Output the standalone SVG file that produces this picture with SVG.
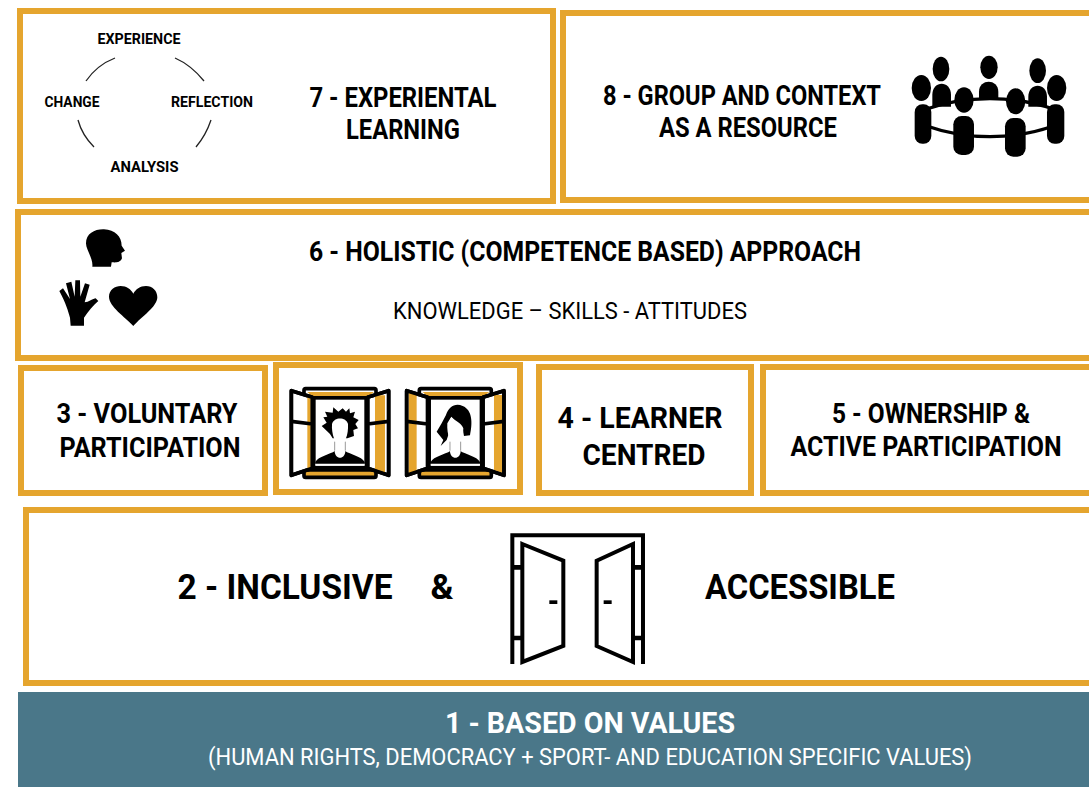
<svg xmlns="http://www.w3.org/2000/svg" xmlns:xlink="http://www.w3.org/1999/xlink" width="1089" height="787" viewBox="0 0 1089 787">
<style>
.box{fill:#fff;stroke:#e5a52e;stroke-width:6}
text{font-family:"Roboto","Liberation Sans",sans-serif;fill:#000;text-anchor:middle}
.t{font-weight:700;font-size:30px}
.s{font-weight:700;font-size:15.5px}
.k{fill:#000;stroke:none}
.w{fill:#fff;stroke:#000;stroke-width:11;stroke-linejoin:round}
.o{fill:none;stroke:#000;stroke-width:11;stroke-linejoin:round}
.g{fill:#e5a52e;stroke:none}
.arc{fill:none;stroke:#222;stroke-width:1.3}
.dr{fill:#fff;stroke:#000;stroke-width:12;stroke-linejoin:miter}
</style>
<defs>
<g id="win">
<rect x="102" y="86" width="216" height="24" rx="5" fill="#fff" stroke="#000" stroke-width="11"/>
<rect x="102" y="330" width="216" height="22" rx="5" fill="#e5a52e" stroke="#000" stroke-width="11"/>
<rect x="132" y="114" width="156" height="208" fill="#fff" stroke="#000" stroke-width="10"/>
<path class="k" d="M136 306C146 288 178 284 196 272L224 272C242 284 274 288 284 306V312H136Z"/>
<path d="M194 240V272C194 300 226 300 226 272V240Z" fill="#fff"/>
<path d="M194 245V272M226 245V272" stroke="#666" stroke-width="2" fill="none"/>
<path d="M136 314H284" stroke="#fff" stroke-width="6"/>
</g>
</defs>

<g id="node-7">
<rect class="box" x="20" y="11" width="533" height="190"/>
<text class="s" x="139" y="44" textLength="83" lengthAdjust="spacingAndGlyphs">EXPERIENCE</text>
<text class="s" x="72" y="107" textLength="55" lengthAdjust="spacingAndGlyphs">CHANGE</text>
<text class="s" x="212" y="107" textLength="82" lengthAdjust="spacingAndGlyphs">REFLECTION</text>
<text class="s" x="144.500" y="172" textLength="68" lengthAdjust="spacingAndGlyphs">ANALYSIS</text>
<path class="arc" d="M86 81Q97 65 115 58"/>
<path class="arc" d="M175 58Q191 65 204 81"/>
<path class="arc" d="M211 120Q206 135 196 147"/>
<path class="arc" d="M78 120Q82 135 94 147"/>
<text class="t" style="font-size:27px" x="403" y="107" textLength="187" lengthAdjust="spacingAndGlyphs">7 - EXPERIENTAL</text>
<text class="t" style="font-size:27px" x="403" y="139" textLength="114" lengthAdjust="spacingAndGlyphs">LEARNING</text>
</g>

<g id="node-8">
<rect class="box" x="563" y="13" width="540" height="187"/>
<text class="t" style="font-size:27px" x="742" y="105" textLength="278" lengthAdjust="spacingAndGlyphs">8 - GROUP AND CONTEXT</text>
<text class="t" style="font-size:27px" x="748" y="137" textLength="178" lengthAdjust="spacingAndGlyphs">AS A RESOURCE</text>
<g transform="translate(890,40) scale(.3333)">
<path d="M110 207Q200 176 300 176T490 207M110 258Q200 290 300 290T490 258" fill="none" stroke="#000" stroke-width="10"/>
<ellipse class="k" cx="153" cy="87" rx="25" ry="37"/>
<ellipse class="k" cx="297" cy="82" rx="26" ry="35"/>
<ellipse class="k" cx="443" cy="92" rx="25" ry="37"/>
<path class="k" d="M127 200V165C127 120 183 120 183 165V200Z"/>
<path class="k" d="M267 178V155C267 115 325 115 325 155V178Z"/>
<path class="k" d="M415 200V170C415 126 471 126 471 170V200Z"/>
<ellipse class="k" cx="94" cy="144" rx="29" ry="39"/>
<ellipse class="k" cx="500" cy="144" rx="29" ry="39"/>
<ellipse class="k" cx="222" cy="180" rx="29" ry="38"/>
<ellipse class="k" cx="377" cy="184" rx="29" ry="39"/>
<rect class="k" x="74" y="193" width="50" height="118" rx="23"/>
<rect class="k" x="471" y="193" width="52" height="118" rx="23"/>
<rect class="k" x="190" y="228" width="62" height="117" rx="25"/>
<rect class="k" x="345" y="234" width="62" height="116" rx="25"/>
</g>
</g>

<g id="node-6">
<rect class="box" x="18" y="212" width="1085" height="146"/>
<text class="t" style="font-size:27px" x="585" y="261" textLength="552" lengthAdjust="spacingAndGlyphs">6 - HOLISTIC (COMPETENCE BASED) APPROACH</text>
<text x="570" y="319" style="font-size:24px" textLength="354" lengthAdjust="spacingAndGlyphs">KNOWLEDGE – SKILLS - ATTITUDES</text>
<g transform="translate(30,215) scale(.3333)">
<path class="k" d="M187 155C190 130 168 105 168 85C168 55 195 42 222 43C255 44 275 65 275 92L285 107L274 114L276 130C270 145 255 142 245 142L243 155Z"/>
<path class="k" d="M122 332L120 308C115 290 108 265 88 228L99 220L120 252L108 205L124 200L134 245L136 196L150 196L151 245L165 205L179 209L164 262C175 262 190 250 197 250L205 258C190 270 175 290 162 308V332Z"/>
<path class="k" d="M310 333C285 305 237 275 237 245C237 225 255 213 272 213C290 213 303 223 310 236C317 223 330 213 348 213C367 213 382 227 382 247C382 275 335 305 310 333Z"/>
</g>
</g>

<g id="node-3">
<rect class="box" x="21" y="368" width="244" height="125"/>
<text class="t" style="font-size:27px" x="147" y="423" textLength="181" lengthAdjust="spacingAndGlyphs">3 - VOLUNTARY</text>
<text class="t" style="font-size:27px" x="150" y="457" textLength="181" lengthAdjust="spacingAndGlyphs">PARTICIPATION</text>
</g>

<g id="node-windows">
<rect class="box" x="276" y="365" width="244" height="127"/>
<g transform="translate(270,360) scale(.3333)">
<use xlink:href="#win" href="#win"/>
<path class="g" d="M112 96H312L297 108H125Z"/>
<path class="w" d="M64 92L127 112V325L64 346Z"/>
<path class="g" d="M112 108H122V330H112Z"/>
<path class="w" d="M356 92L293 112V325L356 346Z"/>
<path class="g" d="M315 106H345V338L315 327Z"/>
<path class="o" d="M64 92L127 112V325L64 346ZM356 92L293 112V325L356 346ZM64 184L127 192M356 184L293 192"/>
<path class="k" d="M165 155L188 158L190 142L205 155L218 145L228 155L238 145L240 160L255 155L250 172L266 180L256 192L264 205L250 210L252 228L232 235L188 235L180 222L155 198L170 188L160 172L172 170Z"/>
<path d="M186 192C192 170 228 170 234 192C236 225 224 252 210 256C196 252 184 225 186 192Z" fill="#fff"/>
<g transform="translate(346,0)">
<use xlink:href="#win" href="#win"/>
<path class="g" d="M112 96H312L297 108H125Z"/>
<path class="w" d="M64 92L127 112V325L64 346Z"/>
<path class="w" d="M356 92L293 112V325L356 346Z"/>
<path class="g" d="M70 98H94V332L70 340Z"/>
<path class="g" d="M326 105H350V338L326 330Z"/>
<path class="o" d="M64 92L127 112V325L64 346ZM356 92L293 112V325L356 346ZM64 184L127 192M356 184L293 192"/>
<path class="k" d="M182 165L169 190L154 215L174 240L166 258L184 240L189 225L188 190L198 172L232 205L236 228L254 226C262 190 262 150 232 138C210 128 190 140 182 165Z"/>
<path d="M186 190L198 170C212 185 230 190 234 205C234 228 224 252 210 256C196 252 184 225 186 190Z" fill="#fff"/>
</g>
</g>
</g>

<g id="node-4">
<rect class="box" x="539" y="367" width="212" height="126"/>
<text class="t" x="640" y="428" textLength="165" lengthAdjust="spacingAndGlyphs">4 - LEARNER</text>
<text class="t" x="644" y="465" textLength="123" lengthAdjust="spacingAndGlyphs">CENTRED</text>
</g>

<g id="node-5">
<rect class="box" x="763" y="367" width="340" height="126"/>
<text class="t" style="font-size:27px" x="931" y="423" textLength="198" lengthAdjust="spacingAndGlyphs">5 - OWNERSHIP &amp;</text>
<text class="t" style="font-size:27px" x="926" y="456" textLength="271" lengthAdjust="spacingAndGlyphs">ACTIVE PARTICIPATION</text>
</g>

<g id="node-2">
<rect class="box" x="26" y="510" width="1080" height="173"/>
<text class="t" style="font-size:35px" x="285" y="599" textLength="215" lengthAdjust="spacingAndGlyphs">2 - INCLUSIVE</text>
<text class="t" style="font-size:35px" x="442" y="599">&amp;</text>
<text class="t" style="font-size:35px" x="800" y="599" textLength="190" lengthAdjust="spacingAndGlyphs">ACCESSIBLE</text>
<g transform="translate(490,520) scale(.3333)">
<path d="M67 432V46H459V432" fill="none" stroke="#000" stroke-width="12"/>
<path d="M67 142H95M67 354H95M431 142H459M431 354H459" stroke="#000" stroke-width="14" fill="none"/>
<path class="dr" d="M97 72L220 122V378L97 426Z"/>
<path class="dr" d="M429 72L320 122V378L429 426Z"/>
<rect class="k" x="178" y="241" width="24" height="11"/>
<rect class="k" x="341" y="241" width="24" height="11"/>
</g>
</g>

<g id="node-1">
<rect x="18" y="692" width="1071" height="95" fill="#4a7789"/>
<text class="t" x="590" y="733" style="font-size:30px;fill:#fff" textLength="290" lengthAdjust="spacingAndGlyphs">1 - BASED ON VALUES</text>
<text x="590" y="765" style="font-size:24px;fill:#fff" textLength="764" lengthAdjust="spacingAndGlyphs">(HUMAN RIGHTS, DEMOCRACY + SPORT- AND EDUCATION SPECIFIC VALUES)</text>
</g>
<g id="connectors"></g>
</svg>
